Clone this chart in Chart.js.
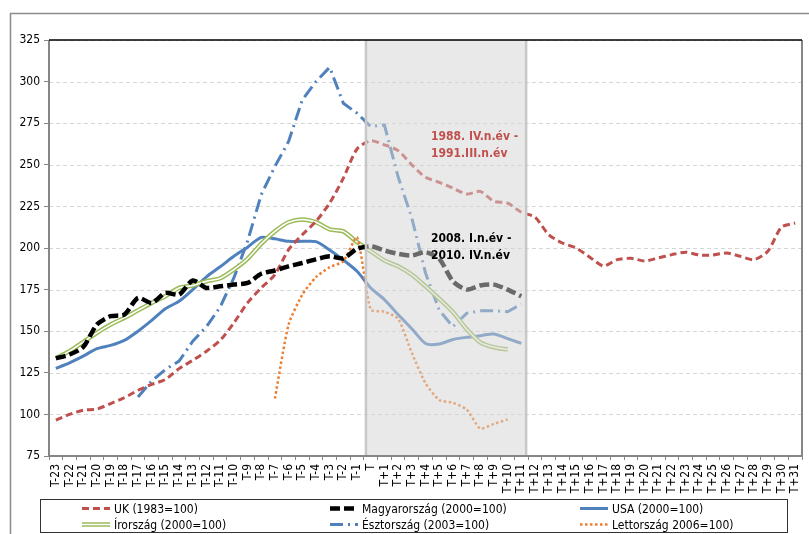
<!DOCTYPE html>
<html>
<head>
<meta charset="utf-8">
<script src="https://cdn.jsdelivr.net/npm/chart.js@4.4.1/dist/chart.umd.min.js"></script>
<style>
  html, body { margin: 0; padding: 0; background: #fff; }
  #wrap { width: 809px; height: 534px; position: relative; }
</style>
</head>
<body>
<div id="wrap"><canvas id="c" width="809" height="534"></canvas></div>
<script>
// Quarters relative to the start of the crisis period (T)
const categories = [
  'T-23','T-22','T-21','T-20','T-19','T-18','T-17','T-16','T-15','T-14','T-13','T-12',
  'T-11','T-10','T-9','T-8','T-7','T-6','T-5','T-4','T-3','T-2','T-1','T',
  'T+1','T+2','T+3','T+4','T+5','T+6','T+7','T+8','T+9','T+10','T+11','T+12',
  'T+13','T+14','T+15','T+16','T+17','T+18','T+19','T+20','T+21','T+22','T+23','T+24',
  'T+25','T+26','T+27','T+28','T+29','T+30','T+31'
];

const yTicks = [75, 100, 125, 150, 175, 200, 225, 250, 275, 300, 325];

// House price indices
const ukValues = [
  96.5, 100, 102.5, 103.2, 106.5, 110, 114.5, 118, 121, 127.5, 132.5, 138,
  144.5, 155, 167, 176, 184, 199, 208, 216, 227, 242, 259.5, 264.5,
  262, 258.5, 250, 242.5, 239.5, 236, 232.4, 234, 228, 227, 221.5, 218.5,
  208, 203, 200, 194.5, 189.2, 193, 193.8, 192.2, 194, 196, 197.5, 195.8,
  195.8, 197, 195, 193, 198, 212.5, 215
];
const huValues = [
  133.7, 136, 140.5, 154, 159, 160, 170, 167, 173, 172, 180.5, 176,
  177, 178, 179, 184.5, 186.5, 189, 191, 193.2, 195, 193.8, 199.5, 201,
  198.5, 196.5, 195.5, 197.5, 193.5, 180, 175, 177.5, 178, 175, 171
];
const usaValues = [
  127.7, 131, 135, 139.5, 141.5, 144.5, 150, 156.5, 163.5, 168, 175, 182.7,
  188.7, 195, 200.5, 206.4, 205.5, 204, 204, 203.8, 198.8, 192.8, 186, 176,
  169, 160, 151.5, 142.6, 142.3, 145, 146.3, 147.3, 148.3, 145.5, 142.7
];
const ieValues = [
  133.7, 138, 143.5, 149, 154, 158, 162.5, 167, 171, 176, 177.5, 180,
  181.8, 187, 193.5, 202.5, 210, 215.5, 217.2, 215.5, 211.2, 210, 203.5, 198,
  192.5, 189, 184, 177, 169.5, 161.5, 151.3, 143.3, 140.3, 139
];
const eeValues = [
  null, null, null, null, null, null, 110.5, 120, 127, 132, 144, 152.7,
  164.5, 182, 204, 232, 249, 264, 289, 300, 308.6, 287, 281, 273,
  273.9, 242.8, 218, 185, 162.7, 152.7, 160.7, 162.3, 162.3, 161.7, 166.3
];
const lvValues = [
  null, null, null, null, null, null, null, null, null, null, null, null,
  null, null, null, null, 109.6, 154, 172, 182.5, 188.5, 192, 206.4, 163,
  161.7, 157.5, 137, 118.7, 108.6, 107, 103, 91.5, 94.3, 97
];

// Crisis period shading and its labels
const shadeFrom = 'T';
const shadeTo = 'T+11';
const notes = [
  { lines: ['1988. IV.n.év -', '1991.III.n.év'], at: 'T+4', value: 267, color: '#C0504D' },
  { lines: ['2008. I.n.év -', '2010. IV.n.év'], at: 'T+4', value: 205.5, color: '#000000' }
];

const FONT = "'DejaVu Sans Condensed', 'DejaVu Sans', sans-serif";

const C_RED = '#C0504D', C_BLUE = '#4F81BD', C_GREEN = '#9BBB59', C_ORANGE = '#EE7D30';

const legendRows = [
  [
    { label: 'UK (1983=100)', color: C_RED, width: 3, dash: [7, 4] },
    { label: 'Magyarország (2000=100)', color: '#000', width: 4.5, dash: [10, 4] },
    { label: 'USA (2000=100)', color: C_BLUE, width: 3, dash: [] }
  ],
  [
    { label: 'Írország (2000=100)', color: C_GREEN, width: 4.5, dash: [], inner: true },
    { label: 'Észtország (2003=100)', color: C_BLUE, width: 3, dash: [13, 5, 2, 5] },
    { label: 'Lettország 2006=100)', color: C_ORANGE, width: 2.5, dash: [2.5, 2.5] }
  ]
];

function line(label, data, color, width, dash, order, tension) {
  return {
    label, data, borderColor: color, backgroundColor: color, borderWidth: width,
    borderDash: dash, pointRadius: 0, pointHoverRadius: 0, fill: false,
    tension: tension, order, spanGaps: false, borderCapStyle: 'butt'
  };
}

const decorPlugin = {
  id: 'decor',
  beforeDraw(chart) {
    const ctx = chart.ctx;
    ctx.save();
    ctx.fillStyle = '#fff';
    ctx.fillRect(0, 0, chart.width, chart.height);
    // outer frame
    ctx.strokeStyle = '#8C8C8C';
    ctx.lineWidth = 1.5;
    ctx.beginPath();
    ctx.moveTo(10.5, chart.height);
    ctx.lineTo(10.5, 13.5);
    ctx.lineTo(chart.width, 13.5);
    ctx.stroke();
    ctx.restore();
  },
  beforeDatasetsDraw(chart) {
    // dashed horizontal grid
    const ctx = chart.ctx;
    const ys = chart.scales.y;
    const a = chart.chartArea;
    ctx.save();
    ctx.strokeStyle = '#D6D6D6';
    ctx.lineWidth = 1;
    ctx.setLineDash([4, 3]);
    yTicks.forEach(v => {
      const y = Math.round(ys.getPixelForValue(v)) + 0.5;
      ctx.beginPath();
      ctx.moveTo(a.left, y); ctx.lineTo(a.right, y);
      ctx.stroke();
    });
    ctx.restore();
  },
  afterDatasetsDraw(chart) {
    const ctx = chart.ctx;
    const xs = chart.scales.x, ys = chart.scales.y;
    const a = chart.chartArea;
    const i0 = categories.indexOf(shadeFrom), i1 = categories.indexOf(shadeTo);
    const x0 = xs.getPixelForValue(i0 - 0.35);
    const x1 = xs.getPixelForValue(i1 + 0.35);
    ctx.save();
    ctx.fillStyle = 'rgba(212,212,212,0.5)';
    ctx.fillRect(x0, a.top, x1 - x0, a.bottom - a.top);
    ctx.strokeStyle = '#C8C8C8';
    ctx.lineWidth = 2.5;
    ctx.beginPath();
    ctx.moveTo(x0, a.bottom); ctx.lineTo(x0, a.top);
    ctx.moveTo(x1, a.top); ctx.lineTo(x1, a.bottom);
    ctx.stroke();

    // plot frame
    ctx.strokeStyle = '#868686';
    ctx.lineWidth = 2;
    ctx.beginPath();
    ctx.moveTo(a.left, a.top); ctx.lineTo(a.left, a.bottom); ctx.lineTo(a.right, a.bottom);
    ctx.moveTo(a.right, a.bottom); ctx.lineTo(a.right, a.top);
    ctx.stroke();
    ctx.strokeStyle = '#000';
    ctx.lineWidth = 1.5;
    ctx.beginPath();
    ctx.moveTo(a.left, a.top); ctx.lineTo(a.right, a.top);
    ctx.stroke();

    // period labels
    ctx.font = 'bold 12px ' + FONT;
    ctx.textAlign = 'left';
    ctx.textBaseline = 'middle';
    notes.forEach(n => {
      const x = xs.getPixelForValue(categories.indexOf(n.at) + 0.4);
      const y = ys.getPixelForValue(n.value);
      ctx.fillStyle = n.color;
      n.lines.forEach((t, k) => ctx.fillText(t, x, y + k * 17));
    });
    ctx.restore();
  },
  afterDraw(chart) {
    const ctx = chart.ctx;
    ctx.save();
    // legend box
    ctx.strokeStyle = '#333';
    ctx.lineWidth = 1;
    ctx.strokeRect(40.5, 499.5, 747, 33);
    const colX = [82, 330, 580];
    const rowY = [508.5, 524.5];
    ctx.font = '12px ' + FONT;
    ctx.textBaseline = 'middle';
    ctx.textAlign = 'left';
    legendRows.forEach((row, r) => {
      row.forEach((it, c) => {
        const x = colX[c], y = rowY[r];
        ctx.strokeStyle = it.color;
        ctx.lineWidth = it.width;
        ctx.setLineDash(it.dash);
        ctx.beginPath();
        ctx.moveTo(x, y); ctx.lineTo(x + 28, y);
        ctx.stroke();
        if (it.inner) {
          ctx.strokeStyle = '#fff';
          ctx.lineWidth = 1.5;
          ctx.beginPath();
          ctx.moveTo(x, y); ctx.lineTo(x + 28, y);
          ctx.stroke();
        }
        ctx.setLineDash([]);
        ctx.fillStyle = '#000';
        ctx.fillText(it.label, x + 32, y + 1);
      });
    });
    ctx.restore();
  }
};

new Chart(document.getElementById('c'), {
  type: 'line',
  data: {
    labels: categories,
    datasets: [
      line('UK (1983=100)', ukValues, C_RED, 3, [7, 4], 2, 0.25),
      line('Magyarország (2000=100)', huValues, '#000', 4.5, [10, 4], 0, 0.25),
      line('USA (2000=100)', usaValues, C_BLUE, 3, [], 6, 0.25),
      line('Írország (2000=100)', ieValues, C_GREEN, 4.5, [], 4, 0.25),
      line('Írország inner', ieValues, '#ffffff', 1.5, [], 3, 0.25),
      line('Észtország (2003=100)', eeValues, C_BLUE, 3, [13, 5, 2, 5], 5, 0),
      line('Lettország 2006=100)', lvValues, C_ORANGE, 2.5, [2.5, 2.5], 1, 0.2)
    ]
  },
  options: {
    responsive: false,
    animation: false,
    devicePixelRatio: 1,
    layout: { padding: { left: 0, top: 40, right: 7, bottom: 38 } },
    plugins: { legend: { display: false }, tooltip: { enabled: false } },
    scales: {
      x: {
        type: 'category',
        offset: true,
        grid: { display: true, drawOnChartArea: false, offset: true, tickLength: 4, color: '#868686', tickColor: '#868686' },
        border: { display: false },
        ticks: {
          autoSkip: false, minRotation: 90, maxRotation: 90, padding: 4,
          color: '#000', font: { family: FONT, size: 12 }
        },
        afterFit(scale) { scale.height = 40; scale.paddingLeft = 0; scale.paddingRight = 0; }
      },
      y: {
        min: 75, max: 325,
        afterBuildTicks(scale) { scale.ticks = yTicks.map(v => ({ value: v })); },
        grid: { drawOnChartArea: false, tickColor: '#868686', tickLength: 5, lineWidth: 1 },
        border: { display: false },
        ticks: { color: '#000', padding: 4, font: { family: FONT, size: 12 } },
        afterFit(scale) { scale.width = 49; scale.paddingTop = 0; scale.paddingBottom = 0; }
      }
    }
  },
  plugins: [decorPlugin]
});
</script>
</body>
</html>
